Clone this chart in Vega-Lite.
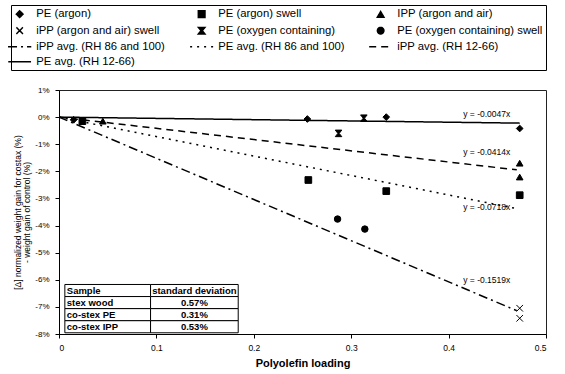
{
  "$schema": "https://vega.github.io/schema/vega-lite/v6.json",
  "width": 487,
  "height": 244,
  "autosize": {"type": "none"},
  "padding": {"left": 59, "top": 90, "right": 19, "bottom": 40},
  "background": "#ffffff",
  "config": {
    "font": "Liberation Sans",
    "view": {"stroke": "#222222", "strokeWidth": 1},
    "axis": {"grid": false, "domainColor": "#000000", "tickColor": "#000000", "labelColor": "#000000", "titleColor": "#000000", "labelFont": "Liberation Sans", "titleFont": "Liberation Sans", "labelOverlap": false},
    "legend": {"labelFont": "Liberation Sans", "labelFontSize": 11.3, "labelColor": "#000000", "strokeColor": "#000000", "padding": 3, "rowPadding": 3, "columnPadding": 21, "labelOffset": 11, "gridAlign": "each", "symbolLimit": 0, "direction": "horizontal", "symbolFillColor": "#000000", "symbolOpacity": 1}
  },
  "datasets": {
    "points": [
      {"series": "PE (argon)", "x": 0.015, "y": -0.001},
      {"series": "PE (argon)", "x": 0.255, "y": -0.0007},
      {"series": "PE (argon)", "x": 0.336, "y": 0.0},
      {"series": "PE (argon)", "x": 0.473, "y": -0.0042},
      {"series": "PE (argon) swell", "x": 0.024, "y": -0.0015},
      {"series": "PE (argon) swell", "x": 0.256, "y": -0.0232},
      {"series": "PE (argon) swell", "x": 0.336, "y": -0.0273},
      {"series": "PE (argon) swell", "x": 0.473, "y": -0.0288},
      {"series": "IPP (argon and air)", "x": 0.045, "y": -0.0015},
      {"series": "IPP (argon and air)", "x": 0.473, "y": -0.017},
      {"series": "IPP (argon and air)", "x": 0.473, "y": -0.0221},
      {"series": "iPP (argon and air) swell", "x": 0.473, "y": -0.0705},
      {"series": "iPP (argon and air) swell", "x": 0.473, "y": -0.0742},
      {"series": "PE (oxygen containing)", "x": 0.313, "y": -0.0004},
      {"series": "PE (oxygen containing)", "x": 0.287, "y": -0.006},
      {"series": "PE (oxygen containing) swell", "x": 0.286, "y": -0.0376},
      {"series": "PE (oxygen containing) swell", "x": 0.314, "y": -0.0413}
    ],
    "lines": [
      {"series": "PE avg. (RH 12-66)", "x": 0, "y": 0},
      {"series": "PE avg. (RH 12-66)", "x": 0.473, "y": -0.00222},
      {"series": "iPP avg. (RH 12-66)", "x": 0, "y": 0},
      {"series": "iPP avg. (RH 12-66)", "x": 0.47, "y": -0.01946},
      {"series": "PE avg. (RH 86 and 100)", "x": 0, "y": 0},
      {"series": "PE avg. (RH 86 and 100)", "x": 0.47, "y": -0.03375},
      {"series": "iPP avg. (RH 86 and 100)", "x": 0, "y": 0},
      {"series": "iPP avg. (RH 86 and 100)", "x": 0.47, "y": -0.0714}
    ],
    "labels": [
      {"text": "y = -0.0047x", "x": 0.415, "y": 0.0011},
      {"text": "y = -0.0414x", "x": 0.415, "y": -0.0129},
      {"text": "y = -0.0718x", "x": 0.415, "y": -0.0332},
      {"text": "y = -0.1519x", "x": 0.415, "y": -0.0601}
    ],
    "table": [
      {"row": "Sample", "sd": "standard deviation"},
      {"row": "stex wood", "sd": "0.57%"},
      {"row": "co-stex PE", "sd": "0.31%"},
      {"row": "co-stex IPP", "sd": "0.53%"}
    ]
  },
  "resolve": {"scale": {"y": "independent"}, "axis": {"y": "independent"}},
  "layer": [
    {
      "layer": [
        {
          "data": {"name": "lines"},
          "mark": {"type": "line", "color": "#000000", "strokeWidth": 1.5},
          "encoding": {
            "x": {"field": "x", "type": "quantitative", "scale": {"domain": [0, 0.5], "nice": false},
              "axis": {"values": [0, 0.1, 0.2, 0.3, 0.4, 0.5], "format": "~g", "labelFontSize": 8.5, "tickSize": 4, "labelPadding": 5, "title": "Polyolefin loading", "titleFontSize": 11, "titleFontWeight": "bold", "titlePadding": 6}},
            "y": {"field": "y", "type": "quantitative", "scale": {"domain": [-0.08, 0.01], "nice": false, "zero": false},
              "axis": {"values": [0.01, 0, -0.01, -0.02, -0.03, -0.04, -0.05, -0.06, -0.07, -0.08], "tickCount": 10, "format": ".0%", "labelExpr": "replace(datum.label, '−', '-')", "labelOverlap": false, "labelFontSize": 8, "tickSize": 4, "labelPadding": 6, "title": ["[Δ] normalized weight gain for costax (%)", "- weight gain of control (%)"], "titleFontSize": 8.5, "titleFontWeight": "normal", "titlePadding": 3, "titleLineHeight": 9}},
            "strokeDash": {"field": "series", "type": "nominal",
              "scale": {"domain": ["PE (argon)", "PE (argon) swell", "IPP (argon and air)", "iPP (argon and air) swell", "PE (oxygen containing)", "PE (oxygen containing) swell", "iPP avg. (RH 86 and 100)", "PE avg. (RH 86 and 100)", "iPP avg. (RH 12-66)", "PE avg. (RH 12-66)"],
                "range": [[1, 0], [1, 0], [1, 0], [1, 0], [1, 0], [1, 0], [9, 4, 2, 4], [2, 5], [7, 5], [1, 0]]},
              "legend": {"title": null, "orient": "none", "legendX": -48, "legendY": -85, "columns": 3, "direction": "horizontal", "symbolFillColor": "#000000", "symbolOpacity": 1}}
          }
        },
        {
          "data": {"name": "points"},
          "mark": {"type": "point", "filled": false, "fill": "#000000", "stroke": "#000000", "strokeWidth": 1, "opacity": 1},
          "encoding": {
            "x": {"field": "x", "type": "quantitative"},
            "y": {"field": "y", "type": "quantitative",
              "axis": {"values": [0.01, 0, -0.01, -0.02, -0.03, -0.04, -0.05, -0.06, -0.07, -0.08], "tickCount": 10, "format": ".0%", "labelExpr": "replace(datum.label, '−', '-')", "labelOverlap": false, "labelFontSize": 8, "tickSize": 4, "labelPadding": 6, "title": ["[Δ] normalized weight gain for costax (%)", "- weight gain of control (%)"], "titleFontSize": 8.5, "titleFontWeight": "normal", "titlePadding": 3, "titleLineHeight": 9}},
            "shape": {"field": "series", "type": "nominal",
              "scale": {"domain": ["PE (argon)", "PE (argon) swell", "IPP (argon and air)", "iPP (argon and air) swell", "PE (oxygen containing)", "PE (oxygen containing) swell", "iPP avg. (RH 86 and 100)", "PE avg. (RH 86 and 100)", "iPP avg. (RH 12-66)", "PE avg. (RH 12-66)"],
                "range": ["diamond", "square", "triangle-up", "M-1,-1L1,1M-1,1L1,-1", "M-1,-1H1L0.2,0L1,1H-1L-0.2,0Z", "circle", "M-3.6,0H3.6", "M-3.6,0H3.6", "M-3.6,0H3.6", "M-3.6,0H3.6"]},
              "legend": {"title": null, "orient": "none", "legendX": -48, "legendY": -85, "columns": 3, "direction": "horizontal", "symbolFillColor": "#000000", "symbolOpacity": 1}},
            "size": {"field": "series", "type": "nominal",
              "scale": {"domain": ["PE (argon)", "PE (argon) swell", "IPP (argon and air)", "iPP (argon and air) swell", "PE (oxygen containing)", "PE (oxygen containing) swell", "iPP avg. (RH 86 and 100)", "PE avg. (RH 86 and 100)", "iPP avg. (RH 12-66)", "PE avg. (RH 12-66)"],
                "range": [45, 40, 50, 60, 50, 55, 100, 100, 100, 100]},
              "legend": {"title": null, "orient": "none", "legendX": -48, "legendY": -85, "columns": 3, "direction": "horizontal", "symbolFillColor": "#000000", "symbolOpacity": 1}}
          }
        },
        {
          "data": {"name": "labels"},
          "mark": {"type": "text", "align": "left", "baseline": "middle", "fontSize": 8.5, "color": "#000000"},
          "encoding": {
            "x": {"field": "x", "type": "quantitative"},
            "y": {"field": "y", "type": "quantitative"},
            "text": {"field": "text"}
          }
        }
      ]
    },
    {
      "data": {"name": "table"},
      "layer": [
        {
          "mark": {"type": "rect", "fill": "#ffffff", "stroke": "#000000", "strokeWidth": 1},
          "encoding": {
            "x": {"datum": 0.006, "type": "quantitative"},
            "x2": {"datum": 0.094},
            "y": {"field": "row", "type": "nominal", "axis": null,
              "scale": {"domain": ["p1", "p2", "p3", "p4", "p5", "p6", "p7", "p8", "p9", "p10", "p11", "p12", "p13", "p14", "p15", "p16", "Sample", "stex wood", "co-stex PE", "co-stex IPP"], "paddingInner": 0, "paddingOuter": 0.1}}
          }
        },
        {
          "mark": {"type": "rect", "fill": "#ffffff", "stroke": "#000000", "strokeWidth": 1},
          "encoding": {
            "x": {"datum": 0.094, "type": "quantitative"},
            "x2": {"datum": 0.184},
            "y": {"field": "row", "type": "nominal", "axis": null,
              "scale": {"domain": ["p1", "p2", "p3", "p4", "p5", "p6", "p7", "p8", "p9", "p10", "p11", "p12", "p13", "p14", "p15", "p16", "Sample", "stex wood", "co-stex PE", "co-stex IPP"], "paddingInner": 0, "paddingOuter": 0.1}}
          }
        },
        {
          "mark": {"type": "text", "align": "left", "baseline": "middle", "fontSize": 9.5, "fontWeight": "bold", "color": "#000000"},
          "encoding": {
            "x": {"datum": 0.008, "type": "quantitative"},
            "y": {"field": "row", "type": "nominal", "axis": null,
              "scale": {"domain": ["p1", "p2", "p3", "p4", "p5", "p6", "p7", "p8", "p9", "p10", "p11", "p12", "p13", "p14", "p15", "p16", "Sample", "stex wood", "co-stex PE", "co-stex IPP"], "paddingInner": 0, "paddingOuter": 0.1}},
            "text": {"field": "row"}
          }
        },
        {
          "mark": {"type": "text", "align": "center", "baseline": "middle", "fontSize": 9.5, "fontWeight": "bold", "color": "#000000"},
          "encoding": {
            "x": {"datum": 0.139, "type": "quantitative"},
            "y": {"field": "row", "type": "nominal", "axis": null,
              "scale": {"domain": ["p1", "p2", "p3", "p4", "p5", "p6", "p7", "p8", "p9", "p10", "p11", "p12", "p13", "p14", "p15", "p16", "Sample", "stex wood", "co-stex PE", "co-stex IPP"], "paddingInner": 0, "paddingOuter": 0.1}},
            "text": {"field": "sd"}
          }
        }
      ]
    }
  ]
}
